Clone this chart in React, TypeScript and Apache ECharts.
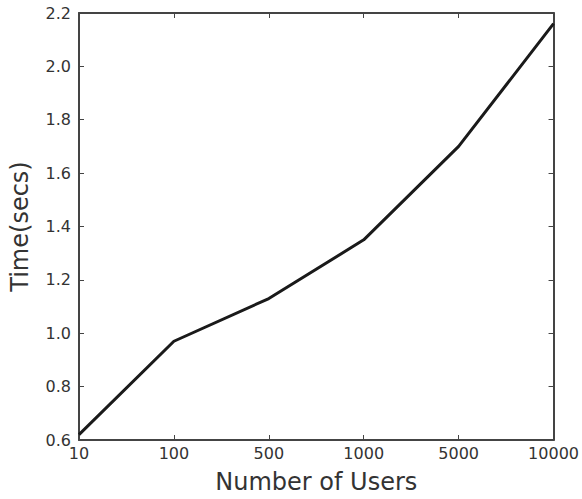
import React, { useEffect, useRef } from "react";
import * as echarts from "echarts";

const categories = ["10", "100", "500", "1000", "5000", "10000"];
const timeSecs = [0.62, 0.97, 1.13, 1.35, 1.70, 2.16];

const FONT = "DejaVu Sans";
const TEXT = "#333333";
const AXIS = "#444444";

export default function App() {
  const ref = useRef<HTMLDivElement>(null);
  useEffect(() => {
    if (!ref.current) return;
    const chart = echarts.init(ref.current, undefined, { renderer: "svg" });
    const tickStyle = { show: true, inside: true, length: 5, lineStyle: { color: AXIS, width: 1 } };
    chart.setOption({
      animation: false,
      backgroundColor: "#ffffff",
      grid: { left: 75, right: 28, top: 13, bottom: 59, containLabel: false },
      xAxis: [
        {
          type: "category",
          data: categories,
          boundaryGap: false,
          position: "bottom",
          axisLine: { show: true, lineStyle: { color: AXIS, width: 2 } },
          axisTick: { ...tickStyle, alignWithLabel: true },
          axisLabel: { color: TEXT, fontFamily: FONT, fontSize: 16, margin: 5 },
          splitLine: { show: false },
          name: "Number of Users",
          nameLocation: "middle",
          nameGap: 30,
          nameTextStyle: { color: TEXT, fontFamily: FONT, fontSize: 24 },
        },
        {
          type: "category",
          data: categories,
          boundaryGap: false,
          position: "top",
          axisLine: { show: true, lineStyle: { color: AXIS, width: 2 } },
          axisTick: { ...tickStyle, alignWithLabel: true },
          axisLabel: { show: false },
          splitLine: { show: false },
        },
      ],
      yAxis: [
        {
          type: "value",
          min: 0.6,
          max: 2.2,
          interval: 0.2,
          position: "left",
          axisLine: { show: true, lineStyle: { color: AXIS, width: 2 } },
          axisTick: tickStyle,
          axisLabel: {
            color: TEXT,
            fontFamily: FONT,
            fontSize: 16,
            margin: 8,
            formatter: (v: number) => v.toFixed(1),
          },
          splitLine: { show: false },
          name: "Time(secs)",
          nameLocation: "middle",
          nameGap: 47,
          nameTextStyle: { color: TEXT, fontFamily: FONT, fontSize: 24 },
        },
        {
          type: "value",
          min: 0.6,
          max: 2.2,
          interval: 0.2,
          position: "right",
          axisLine: { show: true, lineStyle: { color: AXIS, width: 2 } },
          axisTick: tickStyle,
          axisLabel: { show: false },
          splitLine: { show: false },
        },
      ],
      series: [
        {
          type: "line",
          data: timeSecs,
          xAxisIndex: 0,
          yAxisIndex: 0,
          showSymbol: false,
          symbol: "none",
          lineStyle: { color: "#1a1a1a", width: 3 },
        },
      ],
    });
    return () => chart.dispose();
  }, []);
  return (
    <div
      ref={ref}
      style={{ position: "absolute", left: 0, top: 0, width: 582, height: 499 }}
    />
  );
}
